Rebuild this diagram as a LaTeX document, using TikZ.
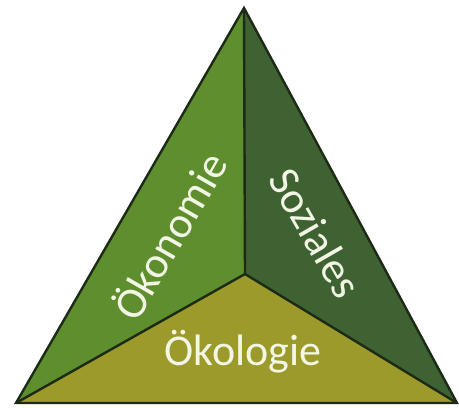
\documentclass[tikz,border=0pt]{standalone}
\usepackage{fontspec}
\setmainfont{Carlito}
\definecolor{oekonomie}{HTML}{5E8E2E}
\definecolor{soziales}{HTML}{3F6232}
\definecolor{oekologie}{HTML}{9B9A2A}
\definecolor{rand}{HTML}{1C2A16}
\definecolor{schrift}{HTML}{F2F6E4}
\begin{document}
\begin{tikzpicture}
[
    x=1pt, y=-1pt,
    feld/.style={draw=rand, line width=2.4pt, line join=miter},
    label/.style={text=schrift, font=\fontsize{44}{50}\selectfont, inner sep=0pt},
]
    \useasboundingbox (0,0) rectangle (459,408);
    \coordinate (top) at (244,8);
    \coordinate (left) at (16,403);
    \coordinate (right) at (457,403);
    \coordinate (mid) at (245,274);

    \fill[oekonomie] (top) -- (mid) -- (left) -- cycle;
    \fill[soziales] (top) -- (right) -- (mid) -- cycle;
    \fill[oekologie] (left) -- (mid) -- (right) -- cycle;
    \draw[feld] (top) -- (left) -- (right) -- cycle;
    \draw[feld] (top) -- (mid) (left) -- (mid) -- (right);

    \node[label, rotate=60] (oek) at (168,235) {Ökonomie};
    \node[label, rotate=-60] (soz) at (316,233) {Soziales};
    \node[label] (okl) at (243,352) {Ökologie};
\end{tikzpicture}
\end{document}
